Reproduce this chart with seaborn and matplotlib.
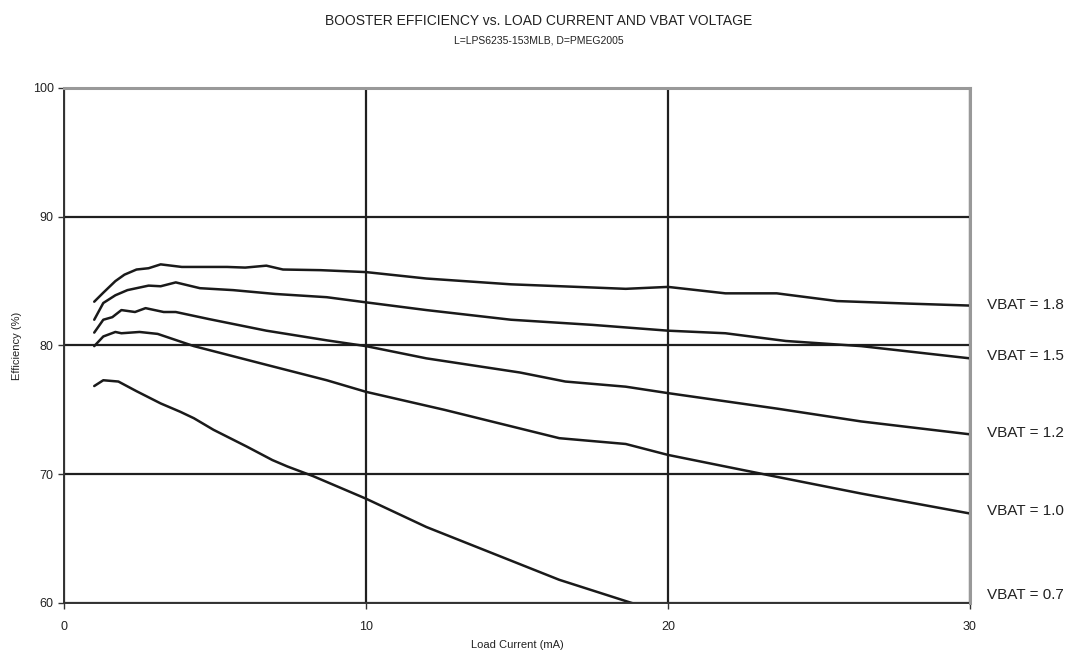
import pandas as pd
import matplotlib
matplotlib.use("Agg")
import matplotlib.pyplot as plt
import seaborn as sns

# values (load current mA, efficiency %)
x_18 = [1.0, 1.3, 1.7, 2.0, 2.4, 2.8, 3.2, 3.9, 5.4, 6.0, 6.7, 7.25, 8.5, 10.0, 12.0, 14.8, 17.0, 18.6, 20.0, 21.9, 23.6, 25.6, 28.0, 30.0]
y_18 = [83.4, 84.1, 85.0, 85.5, 85.9, 86.0, 86.3, 86.1, 86.1, 86.05, 86.2, 85.9, 85.85, 85.7, 85.2, 84.75, 84.55, 84.4, 84.55, 84.05, 84.05, 83.45, 83.25, 83.1]

x_15 = [1.0, 1.3, 1.7, 2.1, 2.8, 3.2, 3.7, 4.5, 5.6, 7.0, 8.7, 10.0, 12.0, 14.8, 17.5, 20.0, 21.9, 23.9, 26.4, 30.0]
y_15 = [82.0, 83.3, 83.9, 84.3, 84.65, 84.6, 84.9, 84.45, 84.3, 84.0, 83.75, 83.35, 82.75, 82.0, 81.6, 81.15, 80.95, 80.35, 79.95, 79.0]

x_12 = [1.0, 1.3, 1.6, 1.9, 2.35, 2.7, 3.3, 3.7, 4.8, 6.7, 8.7, 10.0, 12.0, 15.1, 16.6, 18.6, 20.0, 23.6, 26.4, 30.0]
y_12 = [81.0, 82.0, 82.2, 82.75, 82.6, 82.9, 82.6, 82.6, 82.05, 81.15, 80.4, 79.95, 79.0, 77.9, 77.2, 76.8, 76.3, 75.1, 74.1, 73.1]

x_10 = [1.0, 1.3, 1.7, 1.9, 2.5, 3.1, 4.3, 6.7, 8.7, 10.0, 12.6, 16.4, 18.6, 20.0, 21.9, 23.6, 26.4, 30.0]
y_10 = [79.95, 80.7, 81.05, 80.95, 81.05, 80.9, 79.95, 78.5, 77.3, 76.4, 75.0, 72.8, 72.35, 71.5, 70.6, 69.8, 68.5, 66.95]

x_07 = [1.0, 1.3, 1.8, 2.4, 3.2, 3.85, 4.3, 4.95, 6.05, 6.9, 7.4, 8.25, 10.0, 12.0, 14.2, 16.4, 18.8, 19.5]
y_07 = [76.85, 77.3, 77.2, 76.45, 75.5, 74.85, 74.35, 73.45, 72.15, 71.1, 70.6, 69.85, 68.1, 65.9, 63.85, 61.8, 60.0, 59.6]

vbat_labels = ["VBAT = 1.8", "VBAT = 1.5", "VBAT = 1.2", "VBAT = 1.0", "VBAT = 0.7"]
label_y = [83.15, 79.2, 73.2, 67.15, 60.65]

series = [(x_18, y_18), (x_15, y_15), (x_12, y_12), (x_10, y_10), (x_07, y_07)]
rows = []
for name, (xs, ys) in zip(vbat_labels, series):
    for a, b in zip(xs, ys):
        rows.append({"current": a, "eff": b, "vbat": name})
df = pd.DataFrame(rows)

sns.set_style("white")
plt.rcParams["font.family"] = ["Liberation Sans", "DejaVu Sans"]

fig = plt.figure(figsize=(10.78, 6.58), dpi=100)
ax = fig.add_axes([0.0594, 0.0836, 0.8404, 0.7827])

sns.lineplot(data=df, x="current", y="eff", hue="vbat", palette=["#1a1a1a"] * 5,
             linewidth=1.8, legend=False, sort=False, ax=ax)

ax.set_xlim(0, 30)
ax.set_ylim(60, 100)
ax.set_xticks([0, 10, 20, 30])
ax.set_yticks([60, 70, 80, 90, 100])
ax.grid(True, color="#1f1f1f", linewidth=1.6)
ax.set_axisbelow(True)

for s in ["left", "bottom"]:
    ax.spines[s].set_color("#333333")
    ax.spines[s].set_linewidth(1.4)
for s in ["top", "right"]:
    ax.spines[s].set_color("#999999")
    ax.spines[s].set_linewidth(2.2)
    ax.spines[s].set_zorder(5)

ax.tick_params(axis="both", direction="out", length=4, width=1, color="#333333",
               labelsize=9, labelcolor="#222222", bottom=True, left=True)
ax.tick_params(axis="x", pad=9)
ax.set_xlabel("Load Current (mA)", fontsize=8, color="#222222", labelpad=5)
ax.set_ylabel("Efficiency (%)", fontsize=8, color="#222222", labelpad=8)

for lab, ly in zip(vbat_labels, label_y):
    ax.text(30.55, ly, lab, fontsize=11, color="#222222", va="center", ha="left",
            clip_on=False)

fig.text(0.5, 0.968, "BOOSTER EFFICIENCY vs. LOAD CURRENT AND VBAT VOLTAGE",
         ha="center", va="center", fontsize=10, color="#222222")
fig.text(0.5, 0.938, "L=LPS6235-153MLB, D=PMEG2005",
         ha="center", va="center", fontsize=7.5, color="#222222")

fig.savefig("out.png", dpi=100)
